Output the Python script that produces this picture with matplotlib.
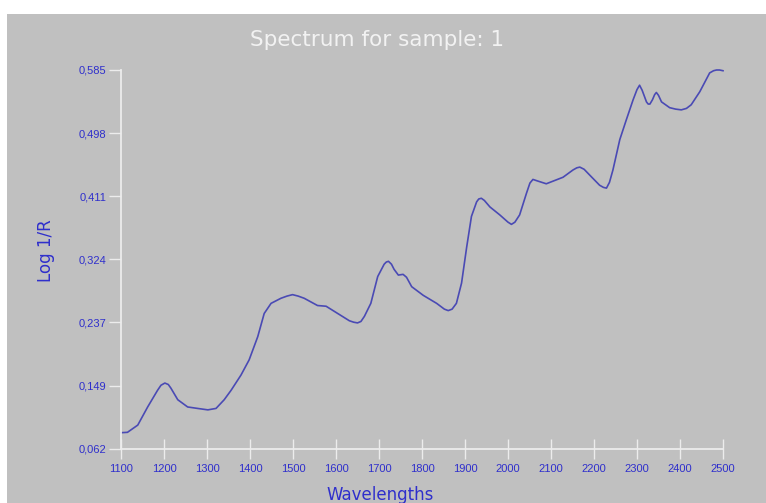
import matplotlib
matplotlib.use('Agg')
import matplotlib.pyplot as plt
from matplotlib.patches import Rectangle

# spectrum
wavelengths = [1100, 1115, 1139, 1162, 1185, 1193, 1202, 1210, 1216, 1232,
               1255, 1278, 1302, 1321, 1340, 1356, 1379, 1398, 1418, 1433,
               1449, 1472, 1486, 1499, 1512, 1526, 1557, 1577, 1604, 1631,
               1641, 1650, 1658, 1666, 1681, 1697, 1712, 1717, 1722, 1729,
               1735, 1745, 1756, 1764, 1776, 1803, 1834, 1852, 1861, 1870,
               1880, 1892, 1904, 1915, 1927, 1932, 1938, 1945, 1958, 1981,
               2000, 2008, 2016, 2027, 2043, 2051, 2058, 2068, 2089, 2128,
               2151, 2160, 2167, 2177, 2190, 2213, 2222, 2229, 2236, 2244,
               2260, 2275, 2291, 2300, 2306, 2312, 2322, 2326, 2330, 2336,
               2341, 2345, 2350, 2357, 2376, 2390, 2403, 2415, 2426, 2446,
               2469, 2478, 2485, 2492, 2500]
log_1_r = [0.0845, 0.085, 0.095, 0.120, 0.143, 0.150, 0.153, 0.151, 0.146, 0.130,
           0.120, 0.118, 0.116, 0.118, 0.130, 0.143, 0.164, 0.185, 0.217, 0.249,
           0.263, 0.270, 0.273, 0.275, 0.273, 0.270, 0.260, 0.259, 0.249, 0.239,
           0.237, 0.236, 0.238, 0.245, 0.263, 0.300, 0.317, 0.320, 0.321, 0.317,
           0.310, 0.302, 0.303, 0.299, 0.286, 0.274, 0.263, 0.255, 0.253, 0.255,
           0.263, 0.291, 0.341, 0.383, 0.403, 0.407, 0.408, 0.405, 0.396, 0.385,
           0.375, 0.372, 0.375, 0.385, 0.415, 0.429, 0.434, 0.432, 0.428, 0.437,
           0.447, 0.450, 0.451, 0.448, 0.440, 0.426, 0.423, 0.422, 0.430, 0.447,
           0.489, 0.516, 0.544, 0.558, 0.564, 0.557, 0.541, 0.538, 0.538, 0.544,
           0.551, 0.554, 0.550, 0.541, 0.533, 0.531, 0.530, 0.532, 0.537, 0.555,
           0.581, 0.584, 0.585, 0.585, 0.584]

x_ticks = [1100, 1200, 1300, 1400, 1500, 1600, 1700, 1800, 1900, 2000,
           2100, 2200, 2300, 2400, 2500]
y_ticks = [0.062, 0.149, 0.237, 0.324, 0.411, 0.498, 0.585]
y_labels = ['0,062', '0,149', '0,237', '0,324', '0,411', '0,498', '0,585']

bg = '#c0c0c0'
blue = '#2f2fcc'
line_col = '#4a4ab4'

W, H = 766, 503
fig = plt.figure(figsize=(W / 100, H / 100), dpi=100, facecolor='white')
fig.add_artist(Rectangle((7 / W, 0), 1 - 7 / W, 1 - 14 / H,
                         transform=fig.transFigure, facecolor=bg,
                         edgecolor='none', zorder=-10))

ax = fig.add_axes([121 / W, 1 - 449 / H, 602 / W, 379 / H])
ax.set_zorder(5)
ax.set_facecolor(bg)
ax.plot(wavelengths, log_1_r, color=line_col, lw=1.2, clip_on=False)

ax.set_xlim(1100, 2500)
ax.set_ylim(0.062, 0.585)
ax.set_xticks(x_ticks)
ax.set_xticklabels([str(t) for t in x_ticks])
ax.set_yticks(y_ticks)
ax.set_yticklabels(y_labels)

for s in ['top', 'right']:
    ax.spines[s].set_visible(False)
for s in ['left', 'bottom']:
    ax.spines[s].set_color('#ececec')
    ax.spines[s].set_linewidth(1.3)

ax.tick_params(axis='x', direction='inout', length=15, width=1, color='#ececec',
               pad=3, labelsize=8, labelcolor=blue)
ax.tick_params(axis='y', direction='out', length=9, width=1, color='#ececec',
               pad=1.5, labelsize=8, labelcolor=blue)
for lab in ax.get_xticklabels() + ax.get_yticklabels():
    lab.set_family('Liberation Sans')

fig.text(377 / W, 1 - 46 / H, 'Spectrum for sample: 1', color='#f2f2f2',
         fontsize=15.5, ha='center', va='baseline')
fig.text(380 / W, 1 - 500 / H, 'Wavelengths', color=blue, fontsize=12,
         ha='center', va='baseline')
fig.text(46 / W, 1 - 251 / H, 'Log 1/R', color=blue, fontsize=12,
         ha='center', va='center', rotation=90)

fig.savefig('out.png', dpi=100, facecolor='white')
